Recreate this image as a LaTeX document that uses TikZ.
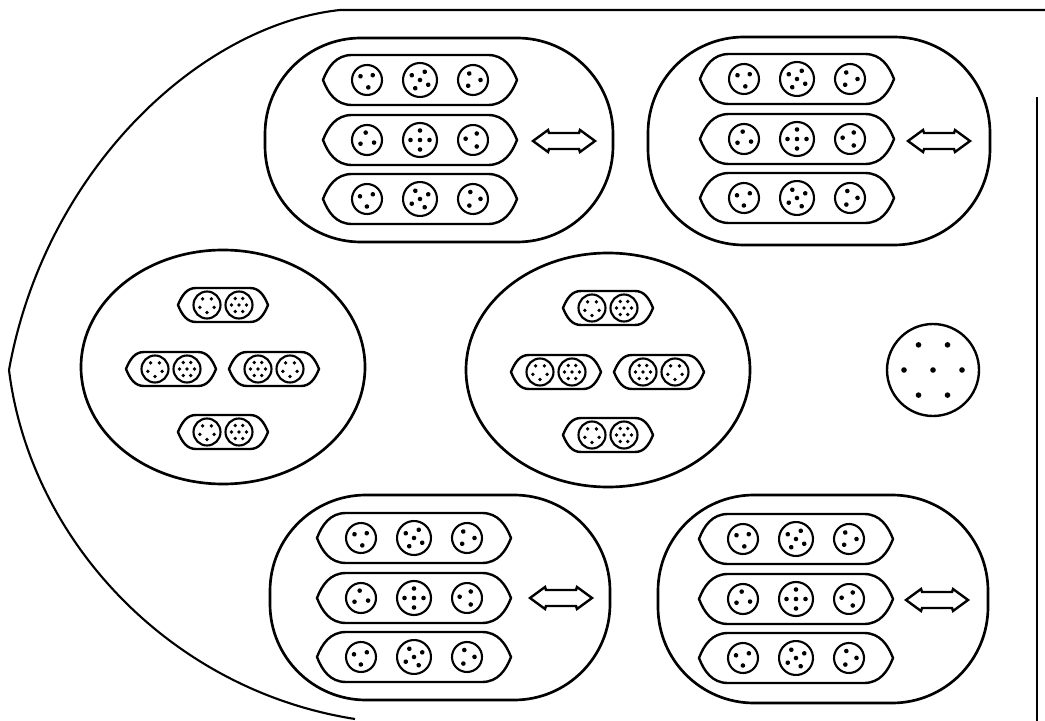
\documentclass[tikz,border=0pt]{standalone}
\usepackage{tikz}

\tikzset{
  shell/.style={line width=1.5pt},
  chamber/.style={line width=1.9pt, rounded corners=2.4cm},
  lensline/.style={line width=1.7pt},
  cellline/.style={line width=1.5pt},
  pics/capsule/.style={code={
    \draw[lensline] (-97,0) .. controls (-92,-13) and (-84,-25) .. (-68,-25)
      -- (68,-25) .. controls (84,-25) and (92,-13) .. (97,0)
      .. controls (92,13) and (84,25) .. (68,25)
      -- (-68,25) .. controls (-84,25) and (-92,13) .. cycle;
  }},
  pics/eye/.style={code={
    \draw[lensline] (-45,0) .. controls (-41,-10) and (-36,-17) .. (-27,-17)
      -- (27,-17) .. controls (36,-17) and (41,-10) .. (45,0)
      .. controls (41,10) and (36,17) .. (27,17)
      -- (-27,17) .. controls (-36,17) and (-41,10) .. cycle;
  }},
  pics/trio/.style={code={
    \draw[cellline] (0,0) circle[radius=15];
    \foreach \a in {20,150,260} \fill (\a:7.5) circle[radius=2.3];
  }},
  pics/cross/.style={code={
    \draw[cellline] (0,0) circle[radius=17];
    \fill (0,0) circle[radius=2.3];
    \foreach \a in {0,90,180,270} \fill (\a:9.5) circle[radius=2.3];
  }},
  pics/ring/.style={code={
    \draw[cellline] (0,0) circle[radius=13.5];
    \foreach \a in {90,162,234,306,18} \fill (\a:7.5) circle[radius=1.9];
  }},
  pics/rosette/.style={code={
    \draw[cellline] (0,0) circle[radius=13.5];
    \fill (0,0) circle[radius=1.9];
    \foreach \a in {0,60,...,300} \fill (\a:7.5) circle[radius=1.9];
  }},
  pics/twinarrow/.style={code={
    \draw[lensline, line join=miter] (-31,0) -- (-16,-11) -- (-15,-8) -- (15,-8)
      -- (16,-11) -- (31,0) -- (16,11) -- (15,8) -- (-15,8) -- (-16,11) -- cycle;
  }}
}

\begin{document}
\begin{tikzpicture}[x=0.025cm, y=-0.025cm]
  \useasboundingbox (0,0) rectangle (1045,721);
  % outer wall
  \draw[shell] (1045,10) -- (340,10) .. controls (200,25) and (45,170) .. (9,370)
    .. controls (30,540) and (170,690) .. (355,719);
  \draw[shell] (1037,97) -- (1037,721);
  % four oval chambers, three capsules each
  \draw[chamber] (265,38) rectangle (613,242);
  \draw[chamber] (648,37) rectangle (990,245);
  \draw[chamber] (270,495) rectangle (610,700);
  \draw[chamber] (658,495) rectangle (988,703);
  \foreach \cx/\cy in {420/140, 797/139, 414/598, 796/599} {
    \foreach \dy in {-60,0,59} {
      \pic at (\cx,\cy+\dy) {capsule};
      \pic[rotate=\dy] at (\cx-53,\cy+\dy) {trio};
      \pic[rotate=\dy/2] at (\cx,\cy+\dy) {cross};
      \pic[rotate=-\dy-40] at (\cx+53,\cy+\dy) {trio};
    }
  }
  % double arrows beside the middle capsules
  \foreach \p in {(564,141), (939,141), (561,598), (937,600)}
    \pic at \p {twinarrow};
  % two round chambers with paired cells
  \foreach \ex/\ey in {223/367, 608/370} {
    \draw[chamber] (\ex,\ey) ellipse[x radius=142, y radius=117];
    \foreach \dx/\dy/\s in {0/-62/1, -52/2/1, 51/2/-1, 0/65/1} {
      \pic at (\ex+\dx,\ey+\dy) {eye};
      \pic at (\ex+\dx-16*\s,\ey+\dy) {ring};
      \pic at (\ex+\dx+16*\s,\ey+\dy) {rosette};
    }
  }
  % single cell
  \begin{scope}[shift={(933,370)}]
    \draw[lensline] (0,0) circle[radius=46];
    \fill (0,0) circle[radius=2.8];
    \foreach \a in {0,60,...,300} \fill (\a:29) circle[radius=2.8];
  \end{scope}
\end{tikzpicture}
\end{document}
